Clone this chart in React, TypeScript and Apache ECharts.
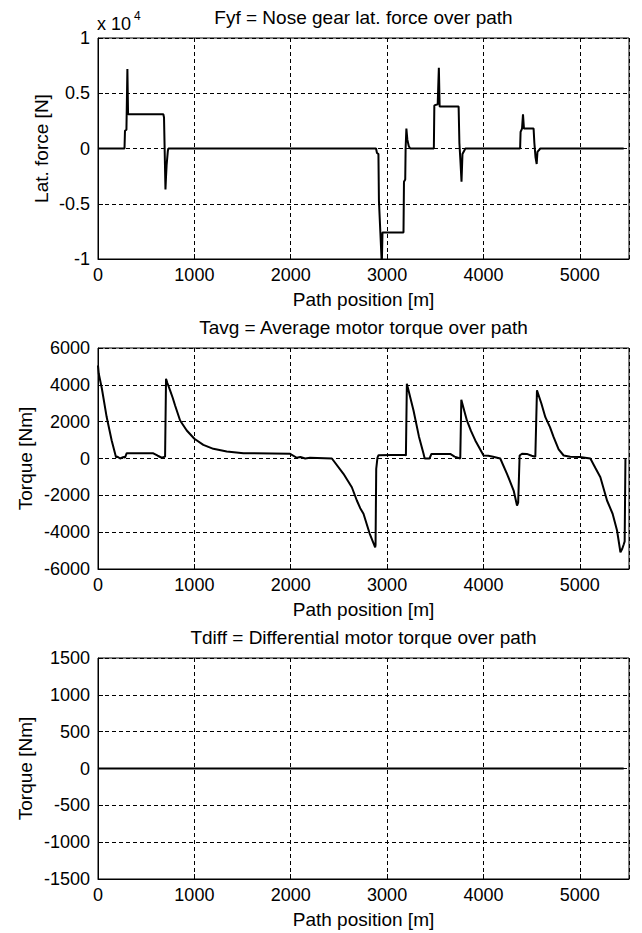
import React, { useEffect, useRef } from "react";
import * as echarts from "echarts";

// Fyf = nose gear lateral force [N]
const fyfPos = [0, 275, 280, 295, 305, 312, 678, 685, 700, 706, 712, 725, 730, 2885, 2895, 2910, 2915, 2930, 2945, 2952, 3170, 3175, 3188, 3192, 3200, 3210, 3225, 3240, 3485, 3490, 3525, 3532, 3537, 3545, 3742, 3750, 3760, 3772, 3782, 3800, 3812, 4380, 4385, 4400, 4410, 4420, 4520, 4528, 4540, 4552, 4560, 4590, 5455];
const fyfVal = [0, 0, 1600, 1700, 7200, 3100, 3100, 2800, -3700, -2500, -1500, -200, 0, 0, -400, -500, -4700, -7600, -10500, -7600, -7600, -3000, -2800, 0, 1800, 800, 200, 0, 0, 3900, 4000, 6000, 7300, 3800, 3800, 500, -1000, -3000, -500, -200, 0, 0, 1500, 1800, 3100, 1800, 1800, 500, -800, -1400, -300, 0, 0];

// Tavg = average motor torque [Nm]
const tavgPos = [0, 8, 40, 90, 142, 187, 200, 230, 260, 280, 298, 574, 620, 661, 696, 706, 720, 748, 775, 800, 852, 921, 1000, 1093, 1197, 1336, 1509, 1994, 2063, 2100, 2150, 2200, 2427, 2547, 2634, 2686, 2721, 2755, 2818, 2876, 2880, 2887, 2900, 2911, 3188, 3195, 3205, 3274, 3330, 3378, 3390, 3440, 3460, 3517, 3655, 3700, 3759, 3770, 3790, 3828, 3870, 3915, 4001, 4050, 4100, 4174, 4244, 4313, 4348, 4360, 4375, 4400, 4450, 4500, 4538, 4555, 4600, 4642, 4690, 4728, 4780, 4832, 4900, 5000, 5109, 5160, 5213, 5282, 5340, 5386, 5421, 5440, 5455, 5465, 5473];
const tavgVal = [5050, 4600, 3800, 2250, 980, 70, 100, 0, 80, 50, 290, 280, 150, 40, 100, 4330, 4100, 3700, 3300, 2880, 2065, 1520, 1070, 743, 525, 380, 290, 255, 40, 80, 0, 40, 0, -830, -1560, -2280, -2700, -3000, -4060, -4820, -4700, -560, 50, 180, 200, 150, 4060, 2610, 1200, 255, 0, 0, 250, 250, 250, 100, 0, 3190, 2800, 2065, 1500, 980, 163, 150, 100, 0, -830, -1740, -2555, -2400, 160, 255, 250, 150, 100, 3700, 3000, 2245, 1700, 1160, 500, 163, 100, 80, 0, -500, -1015, -2280, -3000, -3910, -5090, -4900, -4670, -4500, 0];

// Tdiff = differential motor torque [Nm]
const tdiffPos = [0, 5455];
const tdiffVal = [0, 0];

const titles = [
  "Fyf = Nose gear lat. force over path",
  "Tavg = Average motor torque over path",
  "Tdiff = Differential motor torque over path",
];
const yNames = ["Lat. force [N]", "Torque [Nm]", "Torque [Nm]"];
const xName = "Path position [m]";
const yRanges = [
  [-10000, 10000, 5000],
  [-6000, 6000, 2000],
  [-1500, 1500, 500],
];
const xRange = [0, 5510, 1000];

const FONT = "Liberation Sans, Arial, sans-serif";
const FS = 18;
const FS_T = 19;

export default function App() {
  const ref = useRef<HTMLDivElement>(null);
  useEffect(() => {
    if (!ref.current) return;
    const chart = echarts.init(ref.current, undefined, { renderer: "svg" });
    const tops = [38, 348, 658];
    const H = 221;
    const L = 98;
    const W = 531;
    const cx = L + W / 2;
    const series = [
      fyfPos.map((p, i) => [p, fyfVal[i]]),
      tavgPos.map((p, i) => [p, tavgVal[i]]),
      tdiffPos.map((p, i) => [p, tdiffVal[i]]),
    ];
    const textStyle = (t: string, extra: any = {}) => ({
      text: t,
      fill: "#000",
      font: `${FS_T}px ${FONT}`,
      fontSize: FS_T,
      fontFamily: FONT,
      align: "center",
      verticalAlign: "middle",
      textAlign: "center",
      textVerticalAlign: "middle",
      ...extra,
    });
    const graphics: any[] = [];
    tops.forEach((t, i) => {
      graphics.push({ type: "text", x: cx, y: t - 21, style: textStyle(titles[i]) });
      graphics.push({ type: "text", x: cx, y: t + H + 40, style: textStyle(xName) });
      graphics.push({
        type: "text",
        x: i === 0 ? 41 : 25,
        y: t + H / 2,
        rotation: Math.PI / 2,
        style: textStyle(yNames[i]),
      });
    });
    graphics.push({
      type: "text",
      x: 97,
      y: 24,
      style: textStyle("x 10", { align: "left", textAlign: "left", font: `${FS}px ${FONT}`, fontSize: FS }),
    });
    graphics.push({
      type: "text",
      x: 134,
      y: 16,
      style: textStyle("4", {
        align: "left",
        textAlign: "left",
        font: `12px ${FONT}`,
        fontSize: 12,
      }),
    });

    const option: any = {
      animation: false,
      backgroundColor: "#fff",
      grid: tops.map((t) => ({
        left: L,
        top: t,
        width: W,
        height: H,
        show: true,
        borderColor: "#000",
        borderWidth: 1,
        backgroundColor: "#fff",
        containLabel: false,
      })),
      xAxis: tops.map((_, i) => ({
        type: "value",
        gridIndex: i,
        min: xRange[0],
        max: xRange[1],
        interval: xRange[2],
        axisLine: { show: true, onZero: false, lineStyle: { color: "#000", width: 1 } },
        axisTick: { show: true, inside: true, length: 5, lineStyle: { color: "#000" } },
        axisLabel: {
          color: "#000",
          fontFamily: FONT,
          fontSize: FS,
          margin: 7,
          showMaxLabel: false,
          formatter: (v: number) => String(v),
        },
        splitLine: { show: true, lineStyle: { color: "#000", type: [4, 3], width: 1 } },
      })),
      yAxis: tops.map((_, i) => ({
        type: "value",
        gridIndex: i,
        min: yRanges[i][0],
        max: yRanges[i][1],
        interval: yRanges[i][2],
        axisLine: { show: true, onZero: false, lineStyle: { color: "#000", width: 1 } },
        axisTick: { show: true, inside: true, length: 5, lineStyle: { color: "#000" } },
        axisLabel: {
          color: "#000",
          fontFamily: FONT,
          fontSize: FS,
          margin: 8,
          formatter: i === 0 ? (v: number) => String(v / 10000) : (v: number) => String(v),
        },
        splitLine: { show: true, lineStyle: { color: "#000", type: [4, 3], width: 1 } },
      })),
      series: series.map((d, i) => ({
        type: "line",
        xAxisIndex: i,
        yAxisIndex: i,
        data: d,
        showSymbol: false,
        symbol: "none",
        clip: true,
        lineStyle: { color: "#000", width: 2 },
        z: 5,
      })),
      graphic: graphics,
    };
    chart.setOption(option);
    return () => chart.dispose();
  }, []);
  return (
    <div
      ref={ref}
      style={{ position: "absolute", left: 0, top: 0, width: 642, height: 933 }}
    />
  );
}
